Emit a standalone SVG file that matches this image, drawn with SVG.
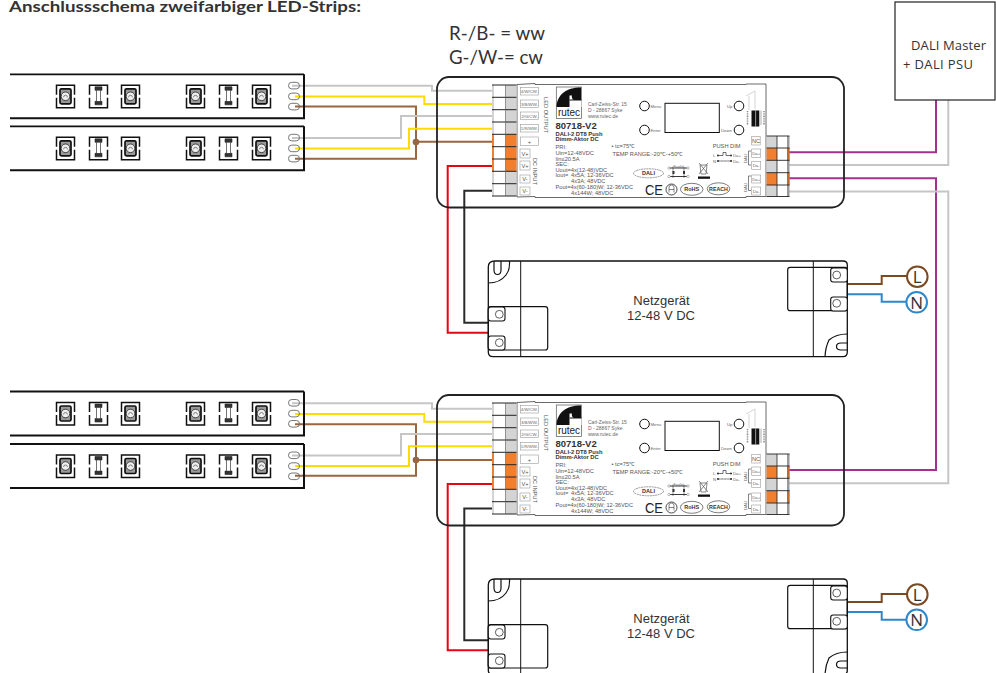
<svg xmlns="http://www.w3.org/2000/svg" width="996" height="673" viewBox="0 0 996 673">
<style>
.w{fill:none;stroke-width:2}
.gy{stroke:#c6c6c6}.ye{stroke:#ffdc00}.br{stroke:#99663f}.re{stroke:#e30613}.bk{stroke:#2a2a2a}.pu{stroke:#a8308c}.lb{stroke:#7b4a22}.bl{stroke:#2f88cc}
.lab{fill:#fff;stroke:#999;stroke-width:.6}
.s{font-family:"Liberation Sans",Arial,sans-serif;font-size:5.7px;fill:#555}
.xs{font-family:"Liberation Sans",Arial,sans-serif;font-size:4.3px;fill:#666}
.tc{text-anchor:middle}
.b{font-family:"Liberation Sans",Arial,sans-serif;font-weight:bold;fill:#333}
.n{font-family:"Open Sans",sans-serif;font-size:13px;fill:#333;text-anchor:middle}
.p{font-family:"Liberation Sans",sans-serif;font-size:13px;fill:#333;text-anchor:middle}
.ln{font-family:"Open Sans",sans-serif;font-size:17px;fill:#333;text-anchor:middle}
.h{font-family:"Lato",sans-serif;font-size:19px;fill:#333}
</style>
<defs>
<g id="chipA">
<path d="M.5 10V.5H18.500V10M.5 13V23H18.500V13" fill="none" stroke="#111" stroke-width="1.500"/>
<rect x="4" y="4" width="11" height="15" rx="1.500" fill="#999" stroke="#111" stroke-width="1.700"/>
<circle cx="9.500" cy="11.500" r="4.300" fill="#eee" stroke="#222" stroke-width=".8"/>
<path d="M7.500 12.500a2 2 0 0 1 4 0" fill="none" stroke="#444" stroke-width=".6"/>
</g>
<g id="chipB">
<path d="M.5 10V.5H18.500V10M.5 13V23H18.500V13" fill="none" stroke="#111" stroke-width="1.500"/>
<path d="M6 2H13V5.500H11.500V16.500H13V20H6V16.500H7.500V5.500H6Z" fill="#333" stroke="#222" stroke-width=".6"/>
<rect x="7.800" y="5.800" width="3.400" height="10.500" fill="#fff"/>
</g>
<g id="strip">
<path d="M10 0H304" fill="none" stroke="#111" stroke-width="1.800"/>
<path d="M304 0V44H10" fill="none" stroke="#111" stroke-width="2"/>
<use href="#chipA" x="56" y="10.500"/>
<use href="#chipB" x="89" y="10.500"/>
<use href="#chipA" x="121" y="10.500"/>
<use href="#chipA" x="186" y="10.500"/>
<use href="#chipB" x="219" y="10.500"/>
<use href="#chipA" x="252" y="10.500"/>
<rect x="288.500" y="8" width="11" height="6.600" rx="3.300" fill="none" stroke="#666" stroke-width=".9"/>
<rect x="288.500" y="18.800" width="11" height="6.600" rx="3.300" fill="none" stroke="#666" stroke-width=".9"/>
<rect x="288.500" y="29" width="11" height="6.600" rx="3.300" fill="none" stroke="#666" stroke-width=".9"/>
</g>
<g id="driverShapes">
<rect x="437" y="77" width="407" height="130.500" rx="12" fill="none" stroke="#222" stroke-width="1.800"/>
<path d="M517 84.500L535 83.500V84.500H746V84H766V196.500H746V197.500H535V196.500L517 197Z" fill="#fff" stroke="#444" stroke-width=".8"/>
<rect x="492" y="85" width="24.500" height="111" fill="#d4d4d4"/>
<rect x="505.500" y="134.300" width="11" height="37" fill="#f08030"/>
<rect x="492" y="134.300" width="2" height="37" fill="#f08030"/>
<rect x="494" y="85" width="11.500" height="111" fill="#fff"/>
<path d="M492 85H516.500M492 97.300H516.500M492 109.700H516.500M492 122H516.500M492 134.300H516.500M492 146.700H516.500M492 159H516.500M492 171.300H516.500M492 183.700H516.500M492 196H516.500" stroke="#222" stroke-width="1"/>
<path d="M505.500 85V196" stroke="#555" stroke-width=".6"/>
<g class="lab">
<rect x="520.500" y="87.500" width="18" height="7.500"/><rect x="520.500" y="100" width="18" height="7.500"/><rect x="520.500" y="112" width="18" height="7.500"/><rect x="520.500" y="124.500" width="18" height="7.500"/><rect x="520.500" y="137" width="18" height="8.500"/>
<rect x="520" y="149" width="10" height="9"/><rect x="520" y="161" width="10" height="9"/><rect x="520" y="175" width="10" height="8"/><rect x="520" y="187" width="10" height="8"/>
</g>
<rect x="556.300" y="87" width="25.300" height="31.500" fill="#fff" stroke="#555" stroke-width=".7"/>
<path d="M556.500 107C557 95 566 87.500 581 87.500V107H575V95.500H569.500V107Z" fill="#111"/>
<circle cx="575.500" cy="96.500" r="3.700" fill="#111"/>
<rect x="571.500" y="100" width="10" height="7" fill="#fff"/>
<path d="M569.500 100H581.500" stroke="#111"/>
<g fill="#fff" stroke="#111" stroke-width="1">
<circle cx="644.500" cy="106" r="4.800"/><circle cx="644.500" cy="130" r="4.800"/><circle cx="739" cy="106" r="4.800"/><circle cx="739" cy="130" r="4.800"/>
<rect x="665" y="103.300" width="54.300" height="29.200" fill="#fff"/>
</g>
<path d="M746 96L755 91V109M749 96V110" fill="none" stroke="#aaa" stroke-width=".5"/>
<rect x="751.500" y="110.500" width="7.800" height="16" fill="#111"/>
<rect x="755.300" y="110.500" width=".8" height="16" fill="#bbb"/>
<path d="M747.500 111V125M764 111V125" stroke="#888" stroke-width="1.500" stroke-dasharray="1 .7"/>
<path d="M761 110.500V125" stroke="#555" stroke-width=".5"/>
<path d="M717 155.500H723V152.500H726V155.500H732M717 161H732" fill="none" stroke="#333" stroke-width=".7"/>
<path d="M717 161H732" stroke="#fff" stroke-width=".5" stroke-dasharray="1.500 1.500"/>
<g fill="#333"><circle cx="718" cy="155.500" r="1"/><circle cx="731" cy="155.500" r="1"/><circle cx="718" cy="161" r="1"/><circle cx="731" cy="161" r="1"/></g>
<ellipse cx="648.500" cy="173.300" rx="15" ry="4.500" fill="#fff" stroke="#555" stroke-width=".6" stroke-dasharray="2 .6"/>
<path d="M669 168H688M669 176.500H688" stroke="#222" stroke-width=".9"/>
<path d="M673 166.500V178M684 166.500V178" stroke="#222" stroke-width=".5"/>
<g fill="#fff" stroke="#555" stroke-width=".4"><circle cx="669" cy="168" r="1.200"/><circle cx="688" cy="168" r="1.200"/><circle cx="669" cy="176.500" r="1.200"/><circle cx="688" cy="176.500" r="1.200"/></g>
<rect x="672.500" y="171" width="2" height="3" fill="#333"/><rect x="683" y="171" width="2" height="3" fill="#333"/>
<path d="M699 163L708 174M708 163L699 174M700 165H707L706 174H701Z" fill="none" stroke="#555" stroke-width=".7"/>
<rect x="698" y="176.500" width="12" height="2.300" fill="#111"/>
<circle cx="671.500" cy="189.500" r="5.500" fill="none" stroke="#333" stroke-width=".9"/>
<path d="M669 192.500V187.500a2.500 2.500 0 0 1 5 0V192.500M669 189.500H674" fill="none" stroke="#333" stroke-width=".6"/>
<ellipse cx="691.700" cy="189.300" rx="11.300" ry="6" fill="#fff" stroke="#444" stroke-width=".7"/>
<ellipse cx="718.500" cy="188.800" rx="11.300" ry="6" fill="#fff" stroke="#444" stroke-width=".7"/>
<rect x="766.500" y="136" width="10.500" height="60.500" fill="#d4d4d4"/>
<rect x="766.500" y="148" width="10.500" height="12.300" fill="#f08030"/>
<rect x="766.500" y="172.700" width="10.500" height="12.300" fill="#f08030"/>
<rect x="777" y="136" width="10" height="60.500" fill="#fff"/>
<rect x="787" y="136" width="2.500" height="60.500" fill="#999"/>
<rect x="787" y="148" width="2.500" height="12.300" fill="#c06a28"/>
<rect x="787" y="172.700" width="2.500" height="12.300" fill="#c06a28"/>
<path d="M766.500 136H789.500M766.500 148H789.500M766.500 160.300H789.500M766.500 172.700H789.500M766.500 185H789.500M766.500 196.500H789.500" stroke="#222" stroke-width=".9"/>
<path d="M777 136V196.500" stroke="#222" stroke-width=".8"/>
<g class="lab">
<rect x="751.700" y="136.500" width="8.500" height="8.500"/><rect x="751.700" y="149" width="9" height="8.500"/><rect x="751.700" y="161.500" width="9" height="8"/><rect x="751.700" y="175" width="9" height="8"/><rect x="751.700" y="187" width="9" height="8"/>
</g>
<path d="M751 151H748.500V165H751M751 176H748.500V190.500H751" fill="none" stroke="#333" stroke-width=".6"/>
</g>
<g id="psuShapes">
<path d="M495 261H843Q847.300 261 847.300 265V352Q847.300 356.700 843 356.700H493Q488.300 356.700 488.300 352V267Q488.300 261 495 261Z" fill="none" stroke="#111" stroke-width="1.300"/>
<path d="M520.700 261V356.700M813.300 261V356.700" stroke="#111" stroke-width="1"/>
<rect x="488.300" y="306.700" width="59.400" height="43.300" rx="2.500" fill="none" stroke="#111" stroke-width="1.200"/>
<rect x="787.700" y="267.300" width="59.600" height="43.400" rx="2.500" fill="none" stroke="#111" stroke-width="1.200"/>
<path d="M494 261V270Q494 274.500 497.500 274.500Q501 274.500 501 270V261M509.500 261Q510 270 506 275Q500 283 488.300 283" fill="none" stroke="#111" stroke-width="1.200"/>
<path d="M847.300 343H841Q836.500 343 836.500 346.500Q836.500 350 841 350H847.300M847.300 334Q836 334 829 340Q825.500 347 825 356.700" fill="none" stroke="#111" stroke-width="1.200"/>
<g fill="#fff" stroke="#111" stroke-width="1.100">
<rect x="488.300" y="307" width="16.700" height="14" rx="2.500"/><rect x="488.300" y="336" width="16.700" height="14" rx="2.500"/>
<rect x="830.700" y="268" width="16.600" height="14" rx="2.500"/><rect x="830.700" y="297" width="16.600" height="14" rx="2.500"/>
</g>
<g fill="#fff" stroke="#333" stroke-width=".8">
<circle cx="499.300" cy="314.300" r="3.900"/><circle cx="499.300" cy="342.700" r="3.900"/>
<circle cx="836.700" cy="275" r="3.900"/><circle cx="836.700" cy="303.300" r="3.900"/>
</g>
</g>
</defs>
<rect width="996" height="673" fill="#fff"/>

<text id="title" x="9" y="12" font-family="Lato,sans-serif" font-weight="bold" font-size="16" fill="#333" textLength="352" lengthAdjust="spacingAndGlyphs">Anschlussschema zweifarbiger LED-Strips:</text>
<text class="h" x="449" y="40" textLength="96" lengthAdjust="spacingAndGlyphs">R-/B- = ww</text>
<text class="h" x="449" y="64" textLength="94" lengthAdjust="spacingAndGlyphs">G-/W-= cw</text>

<g id="connectors">
<g class="w">
<path class="gy" d="M292 85.700H432V90.700H492"/>
<path class="ye" d="M295 96.500H424.300V104H492"/>
<path class="br" d="M295 106.500H416V158.700H295"/>
<path class="br" d="M416 141.800H492"/>
<path class="gy" d="M292 138H401V116H492"/>
<path class="ye" d="M295 148.500H409V128.700H492"/>
<path class="re" d="M492 166H447.700V332.700H488"/>
<path class="bk" d="M492 190.700H464.300V322.700H488"/>
<path class="pu" d="M789 152.300H936V100"/>
<path class="gy" d="M789 165H948.300V100"/>
<path class="pu" d="M789 178.300H936V470H789"/>
<path class="gy" d="M789 191.500H948.300V483.300H789"/>
<path class="lb" d="M847.300 284H881.700V276H907"/>
<path class="bl" d="M847.300 294.300H881.700V301.700H907"/>
<path class="gy" d="M292 403.200H432V408.700H492"/>
<path class="ye" d="M295 414H424.300V421.700H492"/>
<path class="br" d="M295 424.200H416V475.700H295"/>
<path class="br" d="M416 460H492"/>
<path class="gy" d="M292 455.500H401V434H492"/>
<path class="ye" d="M295 466H409V446.300H492"/>
<path class="re" d="M492 484H447.700V650.300H488"/>
<path class="bk" d="M492 508.500H464.300V640.300H488"/>
<path class="lb" d="M847.300 602H881.700V594H907"/>
<path class="bl" d="M847.300 612H881.700V619.700H907"/>
</g>
<circle cx="416" cy="142" r="3.300" fill="#99663f"/>
<circle cx="416" cy="460" r="3.300" fill="#99663f"/>
</g>

<g id="strip1"><use href="#strip" y="74.300"/></g>
<g id="strip2"><use href="#strip" y="126.300"/></g>
<g id="strip3"><use href="#strip" y="391.500"/></g>
<g id="strip4"><use href="#strip" y="444"/></g>

<g id="dali-master">
<rect x="895" y="2" width="100" height="98" fill="none" stroke="#222" stroke-width="1.200"/>
<text class="n" x="948.500" y="50" textLength="75">DALI Master</text>
<text class="n" x="938" y="69" textLength="70">+ DALI PSU</text>
</g>

<g id="driver1">
<use href="#driverShapes"/>
<text class="xs tc" x="529.500" y="93">4/W/CW-</text><text class="xs tc" x="529.500" y="105.500">3/B/WW-</text><text class="xs tc" x="529.500" y="117.500">2/G/CW-</text><text class="xs tc" x="529.500" y="130">1/R/WW-</text>
<text class="s tc" x="529.500" y="143.500">+</text><text class="s tc" x="525" y="156">V+</text><text class="s tc" x="525" y="168">V+</text><text class="s tc" x="525" y="181">V-</text><text class="s tc" x="525" y="193">V-</text>
<text class="s" transform="translate(543.500 97) rotate(90)">LED OUTPUT</text>
<text class="s" transform="translate(532.500 158) rotate(90)">DC INPUT</text>
<text x="569" y="116" font-family="Liberation Sans,sans-serif" font-size="10" fill="#222" text-anchor="middle">rutec</text>
<text class="xs" x="588" y="105.500" style="font-size:5px">Carl-Zeiss-Str. 15</text><text class="xs" x="588" y="111.500" style="font-size:5px">D - 28867 Syke</text><text class="xs" x="588" y="117.500" style="font-size:5px">www.rutec.de</text>
<text class="b" x="555.500" y="128.500" font-size="9.500">80718-V2</text>
<text class="b" x="555.500" y="135.500" font-size="5.800">DALI-2 DT8 Push</text><text class="b" x="555.500" y="141.300" font-size="5.800">Dimm-Aktor DC</text>
<text class="s" x="555.500" y="149">PRI:</text><text class="s" x="555.500" y="155">Uin=12-48VDC</text><text class="s" x="555.500" y="160.500">Iin≤20.5A</text><text class="s" x="555.500" y="165.500">SEC:</text>
<text class="s" x="555.500" y="171.500">Uout=4x(12-48)VDC</text><text class="s" x="555.500" y="177">Iout=</text><text class="s" x="571" y="177">4x5A; 12-36VDC</text><text class="s" x="571" y="182.500">4x3A; 48VDC</text>
<text class="s" x="555.500" y="188.500">Pout=4x(60-180)W; 12-36VDC</text><text class="s" x="571" y="194.500">4x144W; 48VDC</text>
<text class="s" x="611.500" y="148">• tc=75℃</text><text class="s" x="612.500" y="156">TEMP RANGE:-20℃-+50℃</text>
<text class="xs" x="650.500" y="107.500">Menu</text><text class="xs" x="650.500" y="131.500">Enter</text><text class="xs" x="727" y="107.500">Up</text><text class="xs" x="721" y="131.500">Down</text>
<text class="s" x="712.700" y="148">PUSH DIM</text><text class="xs" x="713" y="157">L</text><text class="xs" x="713" y="162.500">N</text><text class="xs" x="733" y="157">Da+</text><text class="xs" x="733" y="162.500">Da-</text>
<text class="b tc" x="648.500" y="175.300" font-size="5.500">DALI</text>
<text class="xs tc" x="678.500" y="168" style="font-size:3px">Parallel</text>
<text x="645" y="195" font-family="Liberation Sans,sans-serif" font-size="15" fill="#222" textLength="18" lengthAdjust="spacingAndGlyphs">CE</text>
<text class="b tc" x="691.700" y="191.300" font-size="5.500">RoHS</text><text class="b tc" x="718.500" y="190.800" font-size="5.300">REACH</text>
<text class="s tc" x="756" y="143">NC</text><text class="xs tc" x="756.200" y="155">Da+</text><text class="xs tc" x="756.200" y="167">Da-</text><text class="xs tc" x="756.200" y="180.500">Da+</text><text class="xs tc" x="756.200" y="192.500">Da-</text>
<text class="xs" transform="translate(747 163) rotate(-90)">DALI</text><text class="xs" transform="translate(747 192) rotate(-90)">DALI</text>
</g>

<g id="driver2">
<use href="#driverShapes" y="318"/>
<text class="xs tc" x="529.500" y="411">4/W/CW-</text><text class="xs tc" x="529.500" y="423.500">3/B/WW-</text><text class="xs tc" x="529.500" y="435.500">2/G/CW-</text><text class="xs tc" x="529.500" y="448">1/R/WW-</text>
<text class="s tc" x="529.500" y="461.500">+</text><text class="s tc" x="525" y="474">V+</text><text class="s tc" x="525" y="486">V+</text><text class="s tc" x="525" y="499">V-</text><text class="s tc" x="525" y="511">V-</text>
<text class="s" transform="translate(543.500 415) rotate(90)">LED OUTPUT</text>
<text class="s" transform="translate(532.500 476) rotate(90)">DC INPUT</text>
<text x="569" y="434" font-family="Liberation Sans,sans-serif" font-size="10" fill="#222" text-anchor="middle">rutec</text>
<text class="xs" x="588" y="423.500" style="font-size:5px">Carl-Zeiss-Str. 15</text><text class="xs" x="588" y="429.500" style="font-size:5px">D - 28867 Syke</text><text class="xs" x="588" y="435.500" style="font-size:5px">www.rutec.de</text>
<text class="b" x="555.500" y="446.500" font-size="9.500">80718-V2</text>
<text class="b" x="555.500" y="453.500" font-size="5.800">DALI-2 DT8 Push</text><text class="b" x="555.500" y="459.300" font-size="5.800">Dimm-Aktor DC</text>
<text class="s" x="555.500" y="467">PRI:</text><text class="s" x="555.500" y="473">Uin=12-48VDC</text><text class="s" x="555.500" y="478.500">Iin≤20.5A</text><text class="s" x="555.500" y="483.500">SEC:</text>
<text class="s" x="555.500" y="489.500">Uout=4x(12-48)VDC</text><text class="s" x="555.500" y="495">Iout=</text><text class="s" x="571" y="495">4x5A; 12-36VDC</text><text class="s" x="571" y="500.500">4x3A; 48VDC</text>
<text class="s" x="555.500" y="506.500">Pout=4x(60-180)W; 12-36VDC</text><text class="s" x="571" y="512.500">4x144W; 48VDC</text>
<text class="s" x="611.500" y="466">• tc=75℃</text><text class="s" x="612.500" y="474">TEMP RANGE:-20℃-+50℃</text>
<text class="xs" x="650.500" y="425.500">Menu</text><text class="xs" x="650.500" y="449.500">Enter</text><text class="xs" x="727" y="425.500">Up</text><text class="xs" x="721" y="449.500">Down</text>
<text class="s" x="712.700" y="466">PUSH DIM</text><text class="xs" x="713" y="475">L</text><text class="xs" x="713" y="480.500">N</text><text class="xs" x="733" y="475">Da+</text><text class="xs" x="733" y="480.500">Da-</text>
<text class="b tc" x="648.500" y="493.300" font-size="5.500">DALI</text>
<text class="xs tc" x="678.500" y="486" style="font-size:3px">Parallel</text>
<text x="645" y="513" font-family="Liberation Sans,sans-serif" font-size="15" fill="#222" textLength="18" lengthAdjust="spacingAndGlyphs">CE</text>
<text class="b tc" x="691.700" y="509.300" font-size="5.500">RoHS</text><text class="b tc" x="718.500" y="508.800" font-size="5.300">REACH</text>
<text class="s tc" x="756" y="461">NC</text><text class="xs tc" x="756.200" y="473">Da+</text><text class="xs tc" x="756.200" y="485">Da-</text><text class="xs tc" x="756.200" y="498.500">Da+</text><text class="xs tc" x="756.200" y="510.500">Da-</text>
<text class="xs" transform="translate(747 481) rotate(-90)">DALI</text><text class="xs" transform="translate(747 510) rotate(-90)">DALI</text>
</g>

<g id="psu1">
<use href="#psuShapes"/>
<text class="p" x="661.500" y="305">Netzgerät</text>
<text class="p" x="661" y="320">12-48 V DC</text>
</g>
<g id="psu2">
<use href="#psuShapes" y="318"/>
<text class="p" x="661.500" y="623">Netzgerät</text>
<text class="p" x="661" y="638">12-48 V DC</text>
</g>

<g id="L1"><circle cx="917.300" cy="276.700" r="10.300" fill="#fff" stroke="#7b4a22" stroke-width="2"/><text class="ln" x="917.300" y="283">L</text></g>
<g id="N1"><circle cx="916.700" cy="302.300" r="10.300" fill="#fff" stroke="#2f88cc" stroke-width="2"/><text class="ln" x="916.700" y="308.500">N</text></g>
<g id="L2"><circle cx="917.300" cy="594.500" r="10.300" fill="#fff" stroke="#7b4a22" stroke-width="2"/><text class="ln" x="917.300" y="601">L</text></g>
<g id="N2"><circle cx="916.700" cy="619.800" r="10.300" fill="#fff" stroke="#2f88cc" stroke-width="2"/><text class="ln" x="916.700" y="626">N</text></g>
</svg>
